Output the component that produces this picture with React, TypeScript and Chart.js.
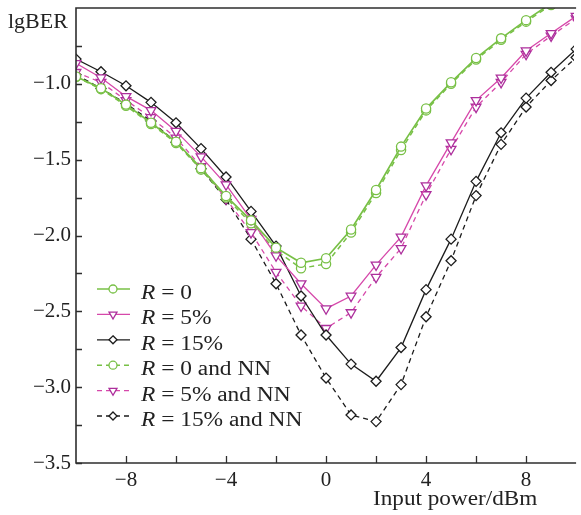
import React, { useEffect, useRef } from 'react';
import { Chart, registerables } from 'chart.js';

Chart.register(...registerables);

// ---------- data ----------
const inputPower = [-10, -9, -8, -7, -6, -5, -4, -3, -2, -1, 0, 1, 2, 3, 4, 5, 6, 7, 8, 9, 10];

const r0 = [-0.952, -1.029, -1.137, -1.257, -1.382, -1.556, -1.74, -1.9, -2.08, -2.18, -2.15, -1.96, -1.7, -1.414, -1.163, -0.99, -0.83, -0.7, -0.58, -0.47, -0.37];
const r5 = [-0.865, -0.96, -1.083, -1.175, -1.312, -1.48, -1.665, -1.893, -2.133, -2.318, -2.482, -2.399, -2.194, -2.009, -1.671, -1.388, -1.109, -0.961, -0.782, -0.667, -0.554];
const r15 = [-0.837, -0.92, -1.013, -1.122, -1.257, -1.427, -1.614, -1.841, -2.07, -2.399, -2.656, -2.848, -2.961, -2.739, -2.357, -2.024, -1.643, -1.323, -1.094, -0.924, -0.771];
const r0NN = [-0.955, -1.035, -1.145, -1.265, -1.39, -1.565, -1.75, -1.92, -2.1, -2.216, -2.188, -1.98, -1.72, -1.436, -1.175, -1.0, -0.84, -0.71, -0.59, -0.48, -0.38];
const r5NN = [-0.924, -0.99, -1.109, -1.222, -1.356, -1.545, -1.758, -1.98, -2.242, -2.464, -2.612, -2.508, -2.275, -2.085, -1.73, -1.431, -1.153, -0.99, -0.804, -0.684, -0.57];
const r15NN = [-0.94, -1.03, -1.13, -1.245, -1.385, -1.56, -1.763, -2.024, -2.318, -2.656, -2.94, -3.183, -3.227, -2.983, -2.536, -2.166, -1.737, -1.399, -1.153, -0.978, -0.826];

const seriesLabels = ['R = 0', 'R = 5%', 'R = 15%', 'R = 0 and NN', 'R = 5% and NN', 'R = 15% and NN'];

const xTickValues = [-8, -6, -4, -2, 0, 2, 4, 6, 8];
const xTickLabels = [-8, -4, 0, 4, 8];
const yTickValues = [-3.5, -3.25, -3.0, -2.75, -2.5, -2.25, -2.0, -1.75, -1.5, -1.25, -1.0, -0.75];
const yTickLabels = [-3.5, -3.0, -2.5, -2.0, -1.5, -1.0];

const xTitle = 'Input power/dBm';
const yTitle = 'lgBER';

// ---------- styles ----------
const GREEN = '#78c046';
const MAGENTA_LINE = '#d648aa';
const MAGENTA_PT = '#ad2f9c';
const BLACK = '#1c1c1c';
const AXIS = '#2e2e2e';
const FONT = '"Liberation Serif", "Times New Roman", Tinos, serif';
const DASH = [5, 4];

const fmtMinus = (s: string) => s.replace('-', '\u2212');

type Style = { line: string; pt: string; shape: string; dashed: boolean; width: number };
const styles: Style[] = [
  { line: GREEN, pt: GREEN, shape: 'circle', dashed: false, width: 1.7 },
  { line: MAGENTA_LINE, pt: MAGENTA_PT, shape: 'triangle', dashed: false, width: 1.3 },
  { line: BLACK, pt: BLACK, shape: 'rectRot', dashed: false, width: 1.3 },
  { line: GREEN, pt: GREEN, shape: 'circle', dashed: true, width: 1.5 },
  { line: MAGENTA_LINE, pt: MAGENTA_PT, shape: 'triangle', dashed: true, width: 1.3 },
  { line: BLACK, pt: BLACK, shape: 'rectRot', dashed: true, width: 1.3 },
];
const seriesValues = [r0, r5, r15, r0NN, r5NN, r15NN];

function drawStretched(ctx: CanvasRenderingContext2D, text: string, x: number, y: number, font: string, sx: number) {
  ctx.save();
  ctx.font = font;
  const w = ctx.measureText(text).width * sx;
  ctx.translate(x, y);
  ctx.scale(sx, 1);
  ctx.fillText(text, 0, 0);
  ctx.restore();
  return w;
}

function drawMarker(ctx: CanvasRenderingContext2D, shape: string, x: number, y: number, r: number) {
  ctx.beginPath();
  if (shape === 'circle') {
    ctx.arc(x, y, r, 0, Math.PI * 2);
  } else if (shape === 'triangle') {
    const rr = r * 1.15;
    ctx.moveTo(x - rr * 0.866, y - rr * 0.5);
    ctx.lineTo(x + rr * 0.866, y - rr * 0.5);
    ctx.lineTo(x, y + rr);
    ctx.closePath();
  } else {
    ctx.moveTo(x, y - r);
    ctx.lineTo(x + r, y);
    ctx.lineTo(x, y + r);
    ctx.lineTo(x - r, y);
    ctx.closePath();
  }
  ctx.fillStyle = '#ffffff';
  ctx.fill();
  ctx.stroke();
}

const decorPlugin = {
  id: 'decor',
  afterDraw(chart: any) {
    const { ctx, chartArea: ca, scales } = chart;
    const xs = scales.x;
    const ys = scales.y;
    ctx.save();
    // frame
    ctx.strokeStyle = AXIS;
    ctx.lineWidth = 1.6;
    ctx.setLineDash([]);
    ctx.beginPath();
    ctx.moveTo(ca.right + 2, ca.top);
    ctx.lineTo(ca.left, ca.top);
    ctx.lineTo(ca.left, ca.bottom);
    ctx.lineTo(ca.right + 2, ca.bottom);
    ctx.stroke();
    // inward ticks
    ctx.lineWidth = 1.3;
    ctx.beginPath();
    for (const v of xTickValues) {
      const px = Math.round(xs.getPixelForValue(v)) + 0.5;
      ctx.moveTo(px, ca.bottom);
      ctx.lineTo(px, ca.bottom - 7);
    }
    for (const v of yTickValues) {
      const py = Math.round(ys.getPixelForValue(v)) + 0.5;
      ctx.moveTo(ca.left, py);
      ctx.lineTo(ca.left + 6, py);
    }
    ctx.stroke();

    // axis titles
    ctx.fillStyle = '#222';
    ctx.textBaseline = 'alphabetic';
    ctx.textAlign = 'left';
    drawStretched(ctx, yTitle, 8, 28, `20px ${FONT}`, 1.1);
    drawStretched(ctx, xTitle, 373, 505, `20px ${FONT}`, 1.16);

    // legend
    const lx0 = 97;
    const lx1 = 130;
    const mx = 113;
    const tx = 141;
    let ly = 289;
    const step = 25.4;
    chart.data.datasets.forEach((ds: any, i: number) => {
      const st = styles[i];
      ctx.strokeStyle = st.line;
      ctx.lineWidth = st.width;
      ctx.setLineDash(st.dashed ? DASH : []);
      ctx.beginPath();
      ctx.moveTo(lx0, ly);
      ctx.lineTo(lx1, ly);
      ctx.stroke();
      ctx.setLineDash([]);
      ctx.strokeStyle = st.pt;
      ctx.lineWidth = 1.3;
      drawMarker(ctx, st.shape, mx, ly, 4);
      ctx.fillStyle = '#222';
      const label: string = ds.label;
      const first = label.charAt(0);
      const rest = label.slice(1);
      const w = drawStretched(ctx, first, tx, ly + 10, `italic 20px ${FONT}`, 1.17);
      drawStretched(ctx, rest, tx + w, ly + 10, `20px ${FONT}`, 1.17);
      ly += step;
    });
    ctx.restore();
  },
};

export default function App() {
  const ref = useRef<HTMLCanvasElement | null>(null);
  useEffect(() => {
    if (!ref.current) return;
    const datasets = seriesValues.map((vals, i) => {
      const st = styles[i];
      return {
        label: seriesLabels[i],
        data: inputPower.map((p, j) => ({ x: p, y: vals[j] })),
        borderColor: st.line,
        borderWidth: st.width,
        borderDash: st.dashed ? DASH : [],
        pointStyle: st.shape,
        pointRotation: st.shape === 'triangle' ? 180 : 0,
        pointRadius: st.shape === 'triangle' ? 5.6 : st.shape === 'circle' ? 4.6 : 5,
        pointBorderColor: st.pt,
        pointBorderWidth: 1.3,
        pointBackgroundColor: '#ffffff',
        fill: false,
        tension: 0,
      };
    });
    const chart = new Chart(ref.current, {
      type: 'line',
      data: { datasets },
      options: {
        responsive: false,
        animation: false,
        events: [],
        layout: { padding: { top: 8, left: 0, right: 0, bottom: 0 } },
        plugins: { legend: { display: false }, tooltip: { enabled: false }, title: { display: false } },
        scales: {
          x: {
            type: 'linear',
            min: -10,
            max: 9.92,
            grid: { display: false, drawTicks: false },
            border: { display: false },
            afterBuildTicks: (s: any) => {
              s.ticks = xTickLabels.map((v) => ({ value: v }));
            },
            afterFit: (s: any) => {
              s.height = 52;
              s.paddingLeft = 0;
              s.paddingRight = 0;
            },
            ticks: {
              autoSkip: false,
              maxRotation: 0,
              padding: 5,
              color: '#222',
              font: { family: FONT, size: 21 },
              callback: (v: any) => fmtMinus(String(v)),
            },
          },
          y: {
            type: 'linear',
            min: -3.5,
            max: -0.5,
            grid: { display: false, drawTicks: false },
            border: { display: false },
            afterBuildTicks: (s: any) => {
              s.ticks = yTickLabels.map((v) => ({ value: v }));
            },
            afterFit: (s: any) => {
              s.width = 76;
              s.paddingTop = 0;
              s.paddingBottom = 0;
            },
            ticks: {
              autoSkip: false,
              padding: 5,
              color: '#222',
              font: { family: FONT, size: 21 },
              callback: (v: any) => fmtMinus(Number(v).toFixed(1)),
            },
          },
        },
      },
      plugins: [decorPlugin],
    } as any);
    return () => chart.destroy();
  }, []);
  return (
    <div style={{ position: 'fixed', left: 0, top: 0, width: 581, height: 515, background: '#fff' }}>
      <canvas ref={ref} width={581} height={515} style={{ display: 'block' }} />
    </div>
  );
}
